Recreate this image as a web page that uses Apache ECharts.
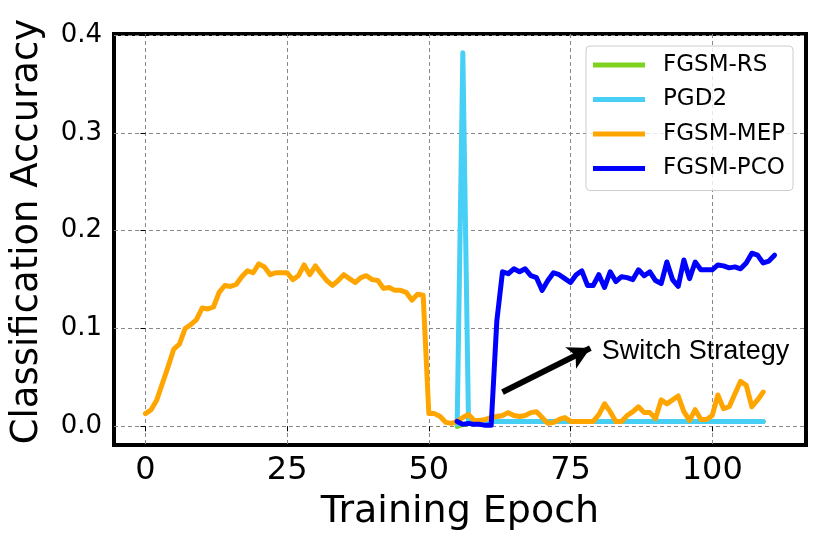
<!DOCTYPE html>
<html>
<head>
<meta charset="utf-8">
<title>Classification Accuracy</title>
<script src="https://cdn.jsdelivr.net/npm/echarts@6/dist/echarts.min.js"></script>
<style>
    html, body { margin: 0; padding: 0; background: #fff; }
    #chart1 { width: 830px; height: 543px; }
</style>
</head>
<body>
<div id="chart1"></div>
<script>
/* 数据 */
var seriesNames = ['FGSM-RS', 'PGD2', 'FGSM-MEP', 'FGSM-PCO'];
var xTicks = [0, 25, 50, 75, 100];
var yTicks = [0.0, 0.1, 0.2, 0.3, 0.4];

// FGSM-MEP, epoch 0..109
var mepStart = 0;
var mepValues = [
    0.013, 0.017, 0.027, 0.044, 0.061, 0.079, 0.084, 0.100, 0.104, 0.109,
    0.121, 0.120, 0.122, 0.137, 0.144, 0.143, 0.145, 0.153, 0.159, 0.157,
    0.166, 0.163, 0.155, 0.157, 0.157, 0.157, 0.150, 0.154, 0.165, 0.155,
    0.164, 0.156, 0.149, 0.144, 0.149, 0.155, 0.151, 0.147, 0.152, 0.154,
    0.150, 0.149, 0.141, 0.142, 0.139, 0.139, 0.137, 0.129, 0.135, 0.134,
    0.013, 0.013, 0.010, 0.004, 0.003, 0.005, 0.009, 0.012, 0.006, 0.006,
    0.007, 0.009, 0.010, 0.011, 0.014, 0.011, 0.010, 0.011, 0.014, 0.015,
    0.009, 0.003, 0.004, 0.007, 0.009, 0.005, 0.005, 0.005, 0.005, 0.005,
    0.012, 0.023, 0.015, 0.005, 0.005, 0.011, 0.015, 0.020, 0.014, 0.014,
    0.008, 0.027, 0.023, 0.027, 0.031, 0.015, 0.006, 0.017, 0.007, 0.007,
    0.011, 0.032, 0.018, 0.020, 0.033, 0.046, 0.042, 0.020, 0.027, 0.035
];

// FGSM-RS, epoch 55..109 (mostly hidden under PGD2)
var rsStart = 55;
var rsValues = [
    0.000, 0.002, 0.003, 0.005, 0.005, 0.005, 0.005, 0.005, 0.005, 0.005,
    0.005, 0.005, 0.005, 0.005, 0.005, 0.005, 0.005, 0.005, 0.005, 0.005,
    0.005, 0.005, 0.005, 0.005, 0.005, 0.005, 0.005, 0.005, 0.005, 0.005,
    0.005, 0.005, 0.005, 0.005, 0.005, 0.005, 0.005, 0.005, 0.005, 0.005,
    0.005, 0.005, 0.005, 0.005, 0.005, 0.005, 0.005, 0.005, 0.005, 0.005,
    0.005, 0.005, 0.005, 0.005, 0.005
];

// PGD2, epoch 55..109
var pgdStart = 55;
var pgdValues = [
    0.002, 0.382, 0.005, 0.005, 0.005, 0.005, 0.005, 0.005, 0.005, 0.005,
    0.005, 0.005, 0.005, 0.005, 0.005, 0.005, 0.005, 0.005, 0.005, 0.005,
    0.005, 0.005, 0.005, 0.005, 0.005, 0.005, 0.005, 0.005, 0.005, 0.005,
    0.005, 0.005, 0.005, 0.005, 0.005, 0.005, 0.005, 0.005, 0.005, 0.005,
    0.005, 0.005, 0.005, 0.005, 0.005, 0.005, 0.005, 0.005, 0.005, 0.005,
    0.005, 0.005, 0.005, 0.005, 0.005
];

// FGSM-PCO, epoch 55..111
var pcoStart = 55;
var pcoValues = [
    0.005, 0.002, 0.003, 0.002, 0.002, 0.001, 0.001, 0.108,
    0.158, 0.156, 0.161, 0.158, 0.161, 0.154, 0.152, 0.139, 0.149, 0.157,
    0.155, 0.151, 0.147, 0.155, 0.159, 0.144, 0.144, 0.155, 0.142, 0.158,
    0.148, 0.153, 0.152, 0.150, 0.160, 0.154, 0.158, 0.149, 0.146, 0.168,
    0.150, 0.143, 0.170, 0.151, 0.168, 0.160, 0.160, 0.160, 0.165, 0.164,
    0.162, 0.163, 0.161, 0.167, 0.177, 0.175, 0.167, 0.169, 0.175
];

// 注释箭头和文字 (epoch, accuracy)
var arrowFrom = [63, 0.035];
var arrowTo = [78.5, 0.080];
var noteAt = [80.5, 0.076];
var noteText = 'Switch Strategy';

var ChartOper = function () {

    var colors = ['#7ed321', '#47cff5', '#ffa500', '#0000ff'];

    // 把起始 epoch 和数值拼成 [x, y]
    var toPairs = function (start, values) {
        var out = [];
        for (var i = 0; i < values.length; i++) {
            out.push([start + i, values[i]]);
        }
        return out;
    };

    var lineSeries = function (name, color, data) {
        return {
            name: name,
            type: 'line',
            data: data,
            showSymbol: false,
            symbol: 'none',
            lineStyle: { color: color, width: 5, join: 'round', cap: 'round' },
            itemStyle: { color: color }
        };
    };

    var getOption = function () {
        var pco = lineSeries(seriesNames[3], colors[3], toPairs(pcoStart, pcoValues));
        pco.markLine = {
            silent: true,
            symbol: ['none', 'arrow'],
            symbolSize: [18, 22],
            label: { show: false },
            lineStyle: { color: '#000', width: 6, type: 'solid' },
            data: [[{ coord: arrowFrom }, { coord: arrowTo }]]
        };
        pco.markPoint = {
            silent: true,
            symbol: 'circle',
            symbolSize: 0,
            label: {
                show: true,
                position: 'right',
                distance: 0,
                formatter: noteText,
                color: '#000',
                fontSize: 27,
                fontFamily: 'Liberation Sans'
            },
            data: [{ coord: noteAt }]
        };

        return {
            animation: false,
            backgroundColor: '#fff',
            grid: {
                left: 114, right: 24, top: 34, bottom: 98,
                show: true,
                borderColor: '#000',
                borderWidth: 4,
                backgroundColor: 'transparent'
            },
            legend: {
                orient: 'vertical',
                left: 586,
                top: 46,
                padding: [7, 8, 10, 7],
                itemGap: 10.5,
                itemWidth: 52,
                itemHeight: 5,
                icon: 'rect',
                backgroundColor: 'rgba(255,255,255,0.8)',
                borderColor: '#cccccc',
                borderWidth: 1,
                borderRadius: 4,
                textStyle: {
                    color: '#000',
                    fontSize: 23,
                    lineHeight: 24,
                    fontFamily: 'DejaVu Sans',
                    padding: [0, 0, 0, 13]
                },
                data: seriesNames
            },
            xAxis: {
                type: 'value',
                min: -5.55,
                max: 116.55,
                name: 'Training Epoch',
                nameLocation: 'middle',
                nameGap: 48,
                nameTextStyle: { color: '#000', fontSize: 38, fontFamily: 'DejaVu Sans' },
                axisLine: { show: false },
                axisTick: {
                    show: true, inside: false, length: 5,
                    customValues: xTicks,
                    lineStyle: { color: '#000', width: 1 }
                },
                axisLabel: {
                    customValues: xTicks,
                    margin: 10,
                    color: '#000',
                    fontSize: 32,
                    fontFamily: 'DejaVu Sans',
                    formatter: function (v) { return String(v); }
                },
                splitLine: {
                    show: true,
                    lineStyle: { color: '#888', width: 1, type: [4, 3] }
                }
            },
            yAxis: {
                type: 'value',
                min: -0.0191,
                max: 0.4011,
                name: 'Classification Accuracy',
                nameLocation: 'middle',
                nameGap: 68,
                nameTextStyle: {
                    color: '#000', fontSize: 37, fontFamily: 'DejaVu Sans',
                    padding: [0, 0, 0, 16]
                },
                axisLine: { show: false },
                axisTick: {
                    show: true, inside: false, length: 5,
                    customValues: yTicks,
                    lineStyle: { color: '#000', width: 1 }
                },
                axisLabel: {
                    customValues: yTicks,
                    margin: 12,
                    color: '#000',
                    fontSize: 26,
                    fontFamily: 'DejaVu Sans',
                    formatter: function (v) { return v.toFixed(1); }
                },
                splitLine: {
                    show: true,
                    lineStyle: { color: '#888', width: 1, type: [4, 3] }
                }
            },
            series: [
                lineSeries(seriesNames[0], colors[0], toPairs(rsStart, rsValues)),
                lineSeries(seriesNames[1], colors[1], toPairs(pgdStart, pgdValues)),
                lineSeries(seriesNames[2], colors[2], toPairs(mepStart, mepValues)),
                pco
            ]
        };
    };

    var queryChart1 = function () {
        var myChart = echarts.init(document.getElementById('chart1'), null, { renderer: 'canvas' });
        myChart.setOption(getOption());
    };

    return {
        queryChart1: function () {
            queryChart1();
        }
    };
}();

ChartOper.queryChart1();
</script>
</body>
</html>
